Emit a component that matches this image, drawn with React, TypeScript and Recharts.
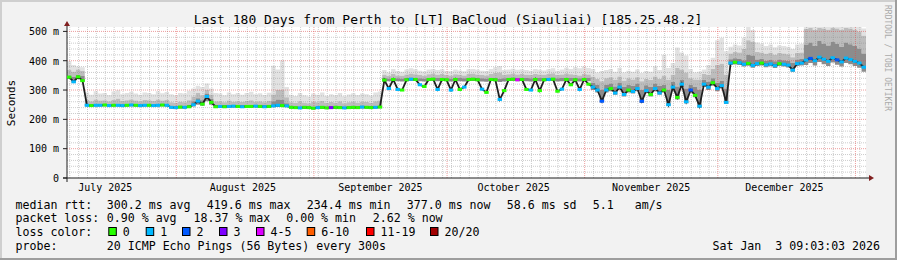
import React from 'react';
import { ComposedChart, Area, Line, XAxis, YAxis, ReferenceLine, CartesianGrid } from 'recharts';

// ---- data (one value per day, day 0 = 7 Jul 2025 09:03, 180 days) ----
const median = [
  344, 328, 345, 332,
  248, 247, 248, 248, 249, 247, 248, 248, 247, 248, 249, 248, 247, 248, 248, 247, 248, 249, 248,
  241, 240, 242, 241, 243, 250, 262, 252, 278, 258, 243,
  244, 243, 244, 245, 244, 243, 244, 244, 245, 244, 243, 244,
  246, 248, 247, 246,
  241, 240, 239, 241, 240, 238, 240, 241, 239, 240, 241, 240, 239, 240, 241, 240, 242, 241, 240, 241, 242,
  334, 305, 336, 302, 300, 335, 337, 336, 318, 312, 336, 337, 302, 336, 335, 300, 336, 302, 310, 336,
  337, 335, 303, 292, 336, 335, 268, 298, 336, 337, 335, 336, 302, 300, 336, 298, 335, 336, 337, 296,
  303, 336, 318, 335, 302, 336, 320,
  310, 300, 262, 300, 305, 290, 310, 285, 300, 295, 305, 262, 298, 285, 305, 290, 300, 250, 310, 275,
  320, 260, 300, 282, 245, 320, 310, 325, 305, 315, 258,
  392, 395, 393, 388, 391, 384, 390, 392, 386, 389, 383, 390, 388, 385, 368, 390, 392,
  402, 408, 400, 412, 405, 398, 410, 403, 396, 409, 404, 398, 392, 378,
];

const smokeLo = [
  338, 325, 339, 328,
  245, 244, 245, 245, 246, 244, 245, 245, 244, 245, 246, 245, 244, 245, 245, 244, 245, 246, 245,
  237, 236, 238, 237, 239, 244, 250, 246, 262, 250, 239,
  240, 239, 240, 241, 240, 239, 240, 240, 241, 240, 239, 240,
  241, 243, 242, 241,
  237, 236, 235, 237, 236, 234, 236, 237, 235, 236, 237, 236, 235, 236, 237, 236, 238, 237, 236, 237, 238,
  328, 330, 331, 330, 329, 330, 332, 331, 330, 329, 331, 332, 330, 331, 330, 329, 331, 330, 329, 331,
  332, 330, 329, 328, 331, 330, 327, 329, 331, 332, 330, 331, 330, 329, 331, 330, 330, 331, 332, 329,
  330, 331, 330, 330, 329, 331, 330,
  300, 292, 258, 292, 296, 284, 300, 278, 292, 288, 296, 256, 290, 278, 296, 284, 292, 246, 300, 268,
  310, 255, 292, 275, 240, 310, 300, 315, 296, 305, 252,
  385, 387, 385, 380, 383, 376, 382, 384, 378, 381, 375, 382, 380, 377, 362, 382, 384,
  385, 392, 384, 396, 388, 382, 394, 386, 380, 392, 388, 382, 376, 362,
];

const smokeDark = [
  350, 345, 352, 348,
  252, 251, 252, 253, 252, 251, 252, 252, 251, 253, 252, 252, 251, 252, 252, 251, 253, 252, 252,
  246, 245, 247, 246, 250, 262, 272, 265, 288, 270, 250,
  249, 248, 249, 250, 249, 248, 249, 249, 250, 249, 248, 249,
  262, 268, 266, 255,
  246, 245, 244, 246, 245, 243, 245, 246, 244, 245, 246, 245, 244, 245, 246, 245, 247, 246, 245, 246, 247,
  341, 339, 342, 340, 339, 341, 343, 342, 340, 339, 342, 343, 341, 342, 340, 339, 342, 341, 340, 342,
  343, 341, 340, 339, 342, 341, 338, 340, 342, 343, 341, 342, 341, 340, 342, 341, 341, 342, 343, 340,
  341, 342, 341, 341, 340, 342, 341,
  325, 318, 300, 318, 322, 312, 326, 310, 318, 315, 322, 300, 316, 310, 322, 314, 318, 300, 328, 312,
  335, 305, 318, 310, 300, 335, 328, 340, 325, 332, 305,
  405, 408, 406, 402, 420, 418, 404, 406, 400, 403, 398, 404, 402, 400, 392, 404, 406,
  455, 462, 450, 468, 458, 452, 465, 458, 448, 462, 456, 450, 442, 425,
];

const smokeMid = [
  368, 362, 370, 365,
  266, 262, 268, 264, 265, 262, 266, 270, 263, 265, 268, 264, 262, 266, 265, 263, 268, 264, 266,
  258, 256, 260, 258, 265, 278, 290, 282, 300, 285, 262,
  262, 258, 264, 260, 262, 259, 263, 265, 260, 262, 258, 263,
  285, 300, 300, 275,
  258, 256, 262, 257, 255, 260, 258, 263, 256, 259, 257, 262, 255, 258, 261, 257, 260, 259, 256, 262, 264,
  352, 348, 355, 350, 349, 353, 356, 354, 351, 349, 354, 356, 352, 355, 351, 350, 354, 352, 350, 355,
  356, 353, 351, 350, 355, 358, 360, 352, 354, 356, 353, 355, 352, 351, 355, 353, 352, 355, 357, 351,
  353, 356, 354, 352, 350, 355, 353,
  345, 338, 330, 340, 344, 335, 346, 332, 340, 336, 344, 330, 338, 334, 346, 338, 350, 335, 352, 375,
  370, 360, 340, 336, 335, 355, 352, 372, 385, 390, 352,
  425, 430, 428, 440, 470, 465, 430, 428, 424, 427, 420, 426, 425, 422, 412, 426, 428,
  508, 512, 505, 512, 510, 506, 512, 510, 505, 512, 510, 506, 500, 485,
];

const smokeHi = [
  398, 385, 380, 378,
  292, 284, 296, 288, 290, 283, 295, 299, 286, 290, 294, 288, 284, 292, 290, 286, 296, 289, 293,
  286, 282, 290, 288, 298, 305, 315, 310, 322, 305, 290,
  288, 282, 292, 286, 290, 284, 290, 294, 286, 289, 283, 291,
  383, 370, 402, 310,
  284, 280, 290, 282, 278, 288, 284, 292, 280, 286, 282, 290, 279, 285, 289, 283, 288, 286, 281, 292, 295,
  368, 360, 372, 365, 362, 370, 374, 371, 366, 363, 370, 372, 368, 371, 365, 364, 370, 367, 364, 371,
  372, 369, 366, 365, 372, 378, 382, 368, 370, 373, 369, 371, 368, 366, 372, 369, 367, 371, 374, 366,
  370, 376, 372, 378, 374, 380, 375,
  372, 360, 365, 368, 372, 362, 375, 360, 366, 362, 370, 358, 365, 362, 381, 368, 420, 375, 392, 445,
  428, 418, 372, 360, 362, 370, 385, 410, 470, 478, 432,
  448, 455, 452, 478, 515, 505, 462, 458, 450, 455, 446, 452, 450, 448, 440, 455, 458,
  515, 515, 515, 515, 515, 515, 515, 515, 515, 515, 515, 515, 515, 510,
];

// loss bucket index per day (0 = "0", 1 = "1", 2 = "2", 3 = "3", 4 = "4-5", ...)
const lossBucket = [
  0, 1, 0, 0,
  1, 0, 1, 1, 0, 1, 0, 1, 1, 0, 1, 0, 1, 1, 0, 1, 1, 0, 1,
  1, 1, 0, 1, 0, 1, 1, 0, 1, 0, 0,
  1, 0, 1, 1, 0, 1, 0, 0, 1, 0, 1, 0,
  1, 1, 0, 1,
  0, 0, 1, 0, 0, 0, 1, 0, 0, 3, 0, 0, 1, 0, 0, 0, 1, 0, 0, 1, 0,
  0, 1, 0, 1, 0, 0, 1, 0, 1, 0, 0, 0, 1, 0, 0, 1, 0, 0, 1, 0,
  0, 0, 1, 0, 0, 0, 1, 0, 0, 0, 4, 0, 0, 1, 0, 0, 0, 1, 0, 0,
  1, 0, 0, 0, 1, 0, 0,
  1, 1, 2, 1, 0, 1, 1, 1, 0, 1, 1, 2, 1, 0, 1, 1, 0, 1, 1, 0,
  1, 1, 2, 0, 1, 1, 1, 0, 1, 1, 1,
  1, 0, 1, 1, 0, 1, 1, 0, 1, 1, 1, 0, 1, 1, 1, 1, 1,
  1, 2, 1, 1, 1, 1, 1, 2, 1, 1, 1, 1, 1, 1,
];

const lossLabels = ['0', '1', '2', '3', '4-5', '6-10', '11-19', '20/20'];
const lossColors = ['#26ff00', '#00b8ff', '#0059ff', '#7e00ff', '#dd00ff', '#ff5e00', '#ff0000', '#a10000'];

const monthLabels = ['July 2025', 'August 2025', 'September 2025', 'October 2025', 'November 2025', 'December 2025'];
const monthLabelDays = [8.62, 39.62, 70.62, 100.62, 131.62, 161.62];
const monthStartDays = [24.62, 55.62, 85.62, 116.62, 146.62, 177.62];
const yMajorTicks = [0, 100, 200, 300, 400, 500];
const yMinorTicks = [20, 40, 60, 80, 120, 140, 160, 180, 220, 240, 260, 280, 320, 340, 360, 380, 420, 440, 460, 480];
const xMinorTicks: number[] = [];
for (let d = 0.62; d < 180; d += 2) {
  if (!monthStartDays.some((m) => Math.abs(m - d) < 0.01)) xMinorTicks.push(d);
}

const statRtt = ['300.2 ms avg', '419.6 ms max', '234.4 ms min', '377.0 ms now', '58.6 ms sd', '5.1   am/s'];
const statLoss = ['0.90 % avg', '18.37 % max', '0.00 % min', '2.62 % now'];
const probeText = '20 ICMP Echo Pings (56 Bytes) every 300s';
const dateText = 'Sat Jan  3 09:03:03 2026';
const titleText = 'Last 180 Days from Perth to [LT] BaCloud (Siauliai) [185.25.48.2]';

// layout (positions only)
const rttX = [107.3, 207.3, 307.3, 407.3, 507.3, 593.3];
const lossStatX = [107.3, 194, 286.7, 373.3];
const lossBoxX = [108.3, 145.7, 182, 219, 256, 306.7, 366, 430];

const pre = (s: string) => s.replace(/ /g, '\u00a0');

const rows: any[] = median.map((m, i) => ({
  day: i + 0.5,
  med: m,
  loss: lossBucket[i],
  b1: [smokeLo[i], smokeDark[i]],
  b2: [smokeDark[i], smokeMid[i]],
  b3: [smokeMid[i], smokeHi[i]],
}));
const data: any[] = [
  { ...rows[0], day: 0, edge: true },
  ...rows,
  { ...rows[rows.length - 1], day: 180, edge: true },
];

const FONT = 'DejaVu Sans Mono';
const STEP = 799 / 180;

const LossDot = (props: any) => {
  const { cx, cy, index, payload } = props;
  if (!payload || payload.edge || cx == null || cy == null) return <g key={`ld${index}`} />;
  return <rect key={`ld${index}`} x={cx - STEP / 2} y={cy - 1.5} width={STEP} height={3} fill={lossColors[payload.loss]} />;
};

const XTick = (props: any) => {
  const { x, y, payload } = props;
  const i = monthLabelDays.indexOf(payload.value);
  return (
    <text x={x} y={y + 4.5} textAnchor="middle" fontSize={10} fontFamily={FONT} fill="#000">
      {monthLabels[i]}
    </text>
  );
};

const YTick = (props: any) => {
  const { x, y, payload } = props;
  return (
    <text x={x} y={y + 3.8} textAnchor="end" fontSize={10} fontFamily={FONT} fill="#000">
      {pre(payload.value === 0 ? '0' : `${payload.value} m`)}
    </text>
  );
};

export default function App() {
  const minorStroke = '#8f8f8f';
  const majorStroke = '#de4f4f';
  return (
    <div style={{ position: 'absolute', left: 0, top: 0, width: 897, height: 260, background: '#f2f2f2', fontFamily: FONT }}>
      <ComposedChart width={897} height={260} data={data} margin={{ top: 27, right: 31, bottom: 62, left: 7 }}>
        <CartesianGrid fill="#ffffff" horizontal={false} vertical={false} stroke="none" />
        <XAxis
          type="number"
          dataKey="day"
          domain={[0, 180]}
          ticks={monthLabelDays}
          interval={0}
          allowDataOverflow
          height={20}
          tickLine={false}
          tickSize={6}
          tickMargin={2}
          axisLine={{ stroke: '#1f1f1f' }}
          tick={<XTick />}
        />
        <YAxis
          type="number"
          domain={[0, 515]}
          ticks={yMajorTicks}
          interval={0}
          allowDataOverflow
          width={60}
          tickSize={4}
          tickMargin={4}
          tickLine={{ stroke: '#1f1f1f' }}
          axisLine={{ stroke: '#1f1f1f' }}
          tick={<YTick />}
        />
        <Area dataKey="b3" type="step" fill="#e2e2e2" fillOpacity={1} stroke="none" isAnimationActive={false} dot={false} activeDot={false} />
        <Area dataKey="b2" type="step" fill="#bdbdbd" fillOpacity={1} stroke="none" isAnimationActive={false} dot={false} activeDot={false} />
        <Area dataKey="b1" type="step" fill="#8c8c8c" fillOpacity={1} stroke="none" isAnimationActive={false} dot={false} activeDot={false} />
        {yMinorTicks.map((v) => (
          <ReferenceLine key={`ym${v}`} y={v} stroke={minorStroke} strokeOpacity={0.45} strokeDasharray="1 1" />
        ))}
        {xMinorTicks.map((v) => (
          <ReferenceLine key={`xm${v}`} x={v} stroke={minorStroke} strokeOpacity={0.45} strokeDasharray="1 1" />
        ))}
        {yMajorTicks.filter((v) => v > 0).map((v) => (
          <ReferenceLine key={`yM${v}`} y={v} stroke={majorStroke} strokeOpacity={0.55} strokeDasharray="1 1" />
        ))}
        {monthStartDays.map((v) => (
          <ReferenceLine key={`xM${v}`} x={v} stroke={majorStroke} strokeOpacity={0.55} strokeDasharray="1 1" />
        ))}
        <Line dataKey="med" type="linear" stroke="#202020" strokeWidth={1.8} dot={LossDot} activeDot={false} isAnimationActive={false} />
      </ComposedChart>
      <svg width={897} height={260} style={{ position: 'absolute', left: 0, top: 0, pointerEvents: 'none' }} fontFamily={FONT}>
        {/* frame */}
        <rect x={0} y={0} width={897} height={2} fill="#cfcfcf" />
        <rect x={0} y={0} width={2} height={260} fill="#cfcfcf" />
        <rect x={0} y={258} width={897} height={2} fill="#9e9e9e" />
        <rect x={895} y={0} width={2} height={260} fill="#9e9e9e" />
        {/* axis extensions + arrows */}
        <line x1={67} y1={25} x2={67} y2={27} stroke="#1f1f1f" strokeWidth={1} />
        <line x1={67} y1={178} x2={67} y2={182} stroke="#1f1f1f" strokeWidth={1} />
        <line x1={63} y1={178} x2={67} y2={178} stroke="#1f1f1f" strokeWidth={1} />
        <line x1={866} y1={178} x2={870} y2={178} stroke="#1f1f1f" strokeWidth={1} />
        <polygon points="64,26 70,26 67,21" fill="#801f1f" />
        <polygon points="869,175 869,181 874,178" fill="#801f1f" />
        {/* title */}
        <text x={448} y={24} textAnchor="middle" fontSize={13} fill="#000">{titleText}</text>
        <text transform="translate(15,103) rotate(-90)" textAnchor="middle" fontSize={11} fill="#000">Seconds</text>
        <text transform="translate(885,5) rotate(90)" fontSize={8} fill="#aaaaaa">{pre('RRDTOOL / TOBI OETIKER')}</text>
        {/* legend */}
        <g fontSize={11.6} fill="#000">
          <text x={15.5} y={208.5}>{pre('median rtt:')}</text>
          {statRtt.map((s, i) => (
            <text key={`r${i}`} x={rttX[i] - 0.5} y={208.5}>{pre(s)}</text>
          ))}
          <text x={15.5} y={222.4}>{pre('packet loss:')}</text>
          {statLoss.map((s, i) => (
            <text key={`l${i}`} x={lossStatX[i] - 0.5} y={222.4}>{pre(s)}</text>
          ))}
          <text x={15.5} y={236.3}>{pre('loss color:')}</text>
          {lossLabels.map((s, i) => (
            <g key={`b${i}`}>
              <rect x={lossBoxX[i] + 0.5} y={227.5} width={7.5} height={8} fill={lossColors[i]} stroke="#000" strokeWidth={1} />
              <text x={lossBoxX[i] + 14.5} y={236.3}>{s}</text>
            </g>
          ))}
          <text x={15.5} y={250.2}>{pre('probe:')}</text>
          <text x={106.8} y={250.2}>{pre(probeText)}</text>
          <text x={880} y={250.2} textAnchor="end">{pre(dateText)}</text>
        </g>
      </svg>
    </div>
  );
}
